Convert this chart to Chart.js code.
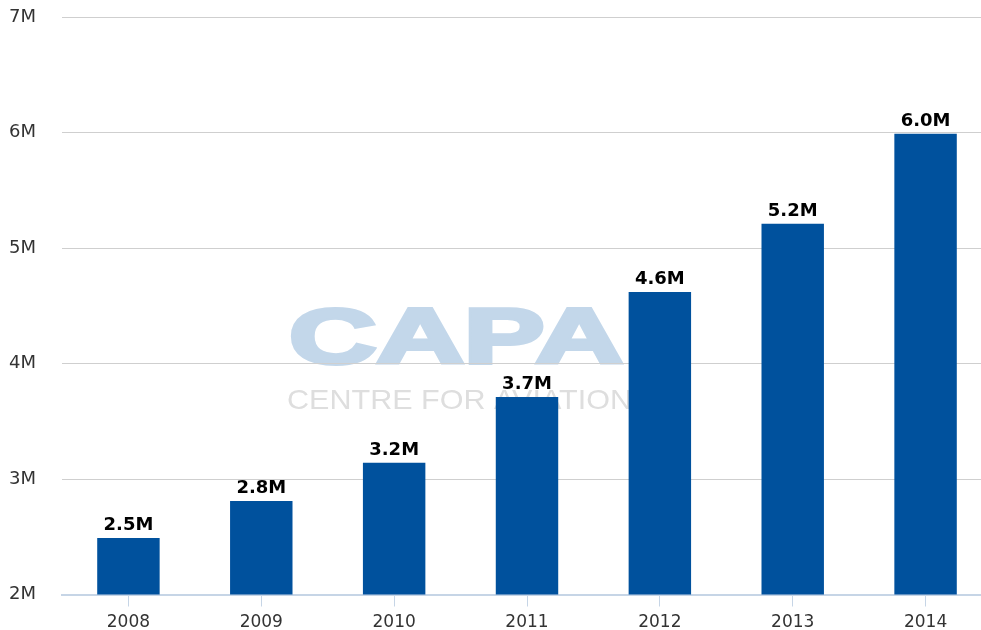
<!DOCTYPE html>
<html>
<head>
<meta charset="utf-8">
<script src="https://cdn.jsdelivr.net/npm/chart.js@4"></script>
<style>
html,body{margin:0;padding:0;background:#fff;overflow:hidden}
#wrap{width:992px;height:630px;position:relative}
</style>
</head>
<body>
<div id="wrap"><canvas id="chart"></canvas></div>
<script>

let years = ["2008","2009","2010","2011","2012","2013","2014"]
let passengers = [2.49,2.81,3.14,3.71,4.62,5.21,5.99]
let valueLabels = ["2.5M","2.8M","3.2M","3.7M","4.6M","5.2M","6.0M"]
let yTicks = [2,3,4,5,6,7]


// faded CAPA logo behind the plot
let watermark = {
id:"watermark",
beforeDraw(chart){
let ctx = chart.ctx
ctx.save()
ctx.fillStyle = "#c3d7ea"
ctx.strokeStyle = "#c3d7ea"
ctx.font = "bold 78px 'Liberation Sans', Arial, sans-serif"
ctx.textBaseline = "alphabetic"
let w = ctx.measureText("CAPA").width
ctx.translate(289,363)
ctx.scale(334/w,1)
ctx.lineWidth = 4
ctx.lineJoin = "miter"
ctx.strokeText("CAPA",0,0)
ctx.fillText("CAPA",0,0)
ctx.restore()

ctx.save()
ctx.fillStyle = "#dedede"
ctx.font = "28px 'Liberation Sans', Arial, sans-serif"
let w2 = ctx.measureText("CENTRE FOR AVIATION").width
ctx.translate(287,409)
ctx.scale(345/w2,1)
ctx.fillText("CENTRE FOR AVIATION",0,0)
ctx.restore()
}
}


let barLabels = {
id:"barLabels",
afterDatasetsDraw(chart){
let ctx = chart.ctx
let meta = chart.getDatasetMeta(0)
ctx.save()
ctx.fillStyle = "#000"
ctx.font = "bold 18px 'DejaVu Sans', Verdana, sans-serif"
ctx.textAlign = "center"
ctx.textBaseline = "alphabetic"
meta.data.forEach((bar,i)=>{
ctx.fillText(valueLabels[i],bar.x,bar.y-8)
})
ctx.restore()
}
}


new Chart(document.getElementById("chart"),{

type:"bar",

data:{
labels:years,
datasets:[{
data:passengers,
backgroundColor:"#00519d",
borderWidth:0,
barPercentage:0.47,
categoryPercentage:1
}]
},

options:{
responsive:true,
maintainAspectRatio:false,
animation:false,
layout:{padding:{left:9,top:17,right:0,bottom:-8.5}},
plugins:{legend:{display:false},tooltip:{enabled:false}},
scales:{
x:{
grid:{drawOnChartArea:false,offset:false,tickLength:12,tickColor:"#c6d5e6"},
border:{color:"#c6d5e6",width:2},
ticks:{color:"#333",padding:7.5,font:{family:"'DejaVu Sans', Verdana, sans-serif",size:17,lineHeight:1}}
},
y:{
min:2,
max:7,
afterBuildTicks(axis){axis.ticks = yTicks.map(v=>({value:v}))},
afterFit(axis){axis.width = 53},
grid:{color:"#cfcfcf",drawTicks:false},
border:{display:false},
ticks:{
color:"#333",
padding:0,
crossAlign:"far",
font:{family:"'DejaVu Sans', Verdana, sans-serif",size:18},
callback:v=>v+"M"
}
}
}
},

plugins:[watermark,barLabels]

})

</script>
</body>
</html>
